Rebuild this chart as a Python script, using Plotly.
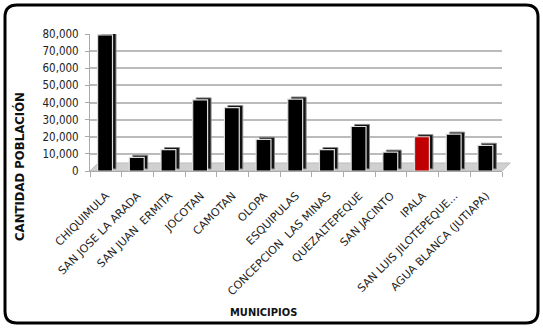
import plotly.graph_objects as go

municipios = ["CHIQUIMULA", "SAN JOSE LA ARADA", "SAN JUAN  ERMITA", "JOCOTAN", "CAMOTAN",
              "OLOPA", "ESQUIPULAS", "CONCEPCION  LAS MINAS", "QUEZALTEPEQUE", "SAN JACINTO",
              "IPALA", "SAN LUIS JILOTEPEQUE...", "AGUA BLANCA (JUTIAPA)"]
poblacion = [79500, 8000, 12500, 41500, 37000, 18500, 42000, 12500, 26000, 11000, 20000, 21500, 15000]
colores = ["#000000"] * len(municipios)
colores[10] = "#C00000"
tick_vals = [0, 10000, 20000, 30000, 40000, 50000, 60000, 70000, 80000]
tick_text = ["0", "10,000", "20,000", "30,000", "40,000", "50,000", "60,000", "70,000", "80,000"]

fig = go.Figure()
# depth (side face) trace
fig.add_trace(go.Bar(x=municipios, y=poblacion, base=1200, width=0.47, offset=-0.15,
                     marker=dict(color="#111111", line=dict(color="#888888", width=1)),
                     hoverinfo="skip", showlegend=False))
# front face
fig.add_trace(go.Bar(x=municipios, y=poblacion, width=0.47, offset=-0.26,
                     marker=dict(color=colores, line=dict(color="#DDDDDD", width=1.2)),
                     showlegend=False))

L, R, T, B = 90, 41, 34, 157
W, H = 543 - L - R, 328 - T - B

def px(xp):
    return (xp - L) / W

def py(yp):
    return (328 - B - yp) / H

x0, x1, y0, y1 = px(5), px(538), py(323), py(5)
rx, ry = 12 / W, 12 / H
path = (f"M {x0+rx},{y1} L {x1-rx},{y1} Q {x1},{y1} {x1},{y1-ry} "
        f"L {x1},{y0+ry} Q {x1},{y0} {x1-rx},{y0} L {x0+rx},{y0} Q {x0},{y0} {x0},{y0+ry} "
        f"L {x0},{y1-ry} Q {x0},{y1} {x0+rx},{y1} Z")

fig.update_layout(
    width=543, height=328,
    margin=dict(l=L, r=R, t=T, b=B),
    paper_bgcolor="white", plot_bgcolor="white",
    bargap=0.5, barmode="overlay",
    font=dict(family="DejaVu Sans", size=10, color="#222222"),
    shapes=[
        dict(type="path", xref="paper", yref="paper", path=path,
             line=dict(color="black", width=3), fillcolor="rgba(0,0,0,0)", layer="above"),
        dict(type="path", xref="paper", yref="paper",
             path=f"M 0,0 L 1,0 L 1.02,{8/H} L 0.02,{8/H} Z",
             line=dict(color="#BBBBBB", width=1), fillcolor="#D0D0D0", layer="below"),
    ],
    annotations=[
        dict(text="<b>CANTIDAD POBLACIÓN</b>", xref="paper", yref="paper",
             x=px(19), y=py(167), xanchor="center", yanchor="middle",
             textangle=-90, showarrow=False,
             font=dict(size=13, color="#111111", family="DejaVu Sans Condensed")),
        dict(text="<b>MUNICIPIOS</b>", xref="paper", yref="paper",
             x=px(263), y=py(312), xanchor="center", yanchor="middle", showarrow=False,
             font=dict(size=11, color="#111111", family="DejaVu Sans Condensed")),
    ],
)
fig.update_xaxes(tickangle=-45, showgrid=False, showline=True, linecolor="#AAAAAA",
                 ticks="outside", ticklen=5, tickcolor="#AAAAAA", tickson="boundaries",
                 ticklabelstandoff=13,
                 tickfont=dict(size=11, family="DejaVu Sans", color="#222222"))
fig.update_yaxes(range=[0, 80000], tickvals=tick_vals, ticktext=tick_text,
                 showgrid=True, gridcolor="#BBBBBB", gridwidth=1.5,
                 showline=True, linecolor="#AAAAAA", ticks="outside", ticklen=4,
                 tickcolor="#AAAAAA", zeroline=False, ticklabelstandoff=4,
                 tickfont=dict(size=11.5, family="DejaVu Sans Condensed", color="#222222"))

fig.write_html("out.html")
